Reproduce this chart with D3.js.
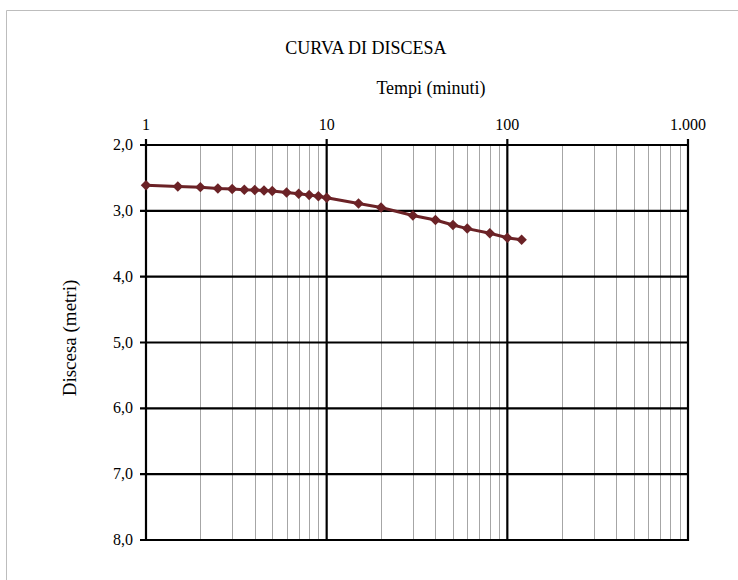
<!DOCTYPE html>
<html><head><meta charset="utf-8">
<script src="https://cdn.jsdelivr.net/npm/d3@7"></script>
<style>body{margin:0;background:#fff}svg{display:block}</style>
</head><body>
<svg id="c" width="738" height="580" font-family="'Liberation Serif', 'DejaVu Serif', serif"></svg>
<script>
const times = [1,1.5,2,2.5,3,3.5,4,4.5,5,6,7,8,9,10,15,20,30,40,50,60,80,100,120];
const drawdown = [2.61,2.63,2.64,2.66,2.67,2.68,2.685,2.69,2.70,2.72,2.74,2.76,2.78,2.80,2.89,2.95,3.07,3.14,3.215,3.27,3.34,3.41,3.44];
const xTicks = [1,10,100,1000];
const xTickLabels = ["1","10","100","1.000"];
const yTicks = [2,3,4,5,6,7,8];
const yTickLabels = ["2,0","3,0","4,0","5,0","6,0","7,0","8,0"];
const title = "CURVA DI DISCESA";
const xTitle = "Tempi (minuti)";
const yTitle = "Discesa (metri)";

const svg = d3.select("#c");
const L=146, R=688, T=145, B=540;
const x = d3.scaleLog().domain([1,1000]).range([L,R]);
const y = d3.scaleLinear().domain([2,8]).range([T,B]);

svg.append("path").attr("d","M6.5,580 L6.5,10.5 L738,10.5").attr("fill","none").attr("stroke","#bdbdbd").attr("stroke-width",1);

const minor=[];
for(let d=1; d<1000; d*=10) for(let k=2;k<=9;k++) minor.push(d*k);
svg.append("g").selectAll("line").data(minor).join("line")
  .attr("x1",d=>Math.round(x(d))+0.5).attr("x2",d=>Math.round(x(d))+0.5).attr("y1",T).attr("y2",B)
  .attr("stroke","#a6a6a6").attr("stroke-width",1);

svg.append("g").selectAll("line").data(xTicks).join("line")
  .attr("x1",d=>x(d)).attr("x2",d=>x(d)).attr("y1",T-6).attr("y2",B+1)
  .attr("stroke","#000").attr("stroke-width",2.2);
svg.append("g").selectAll("line").data(yTicks).join("line")
  .attr("x1",L-6).attr("x2",R+1).attr("y1",d=>y(d)).attr("y2",d=>y(d))
  .attr("stroke","#000").attr("stroke-width",2.2);

svg.append("g").selectAll("text").data(xTicks).join("text")
  .attr("x",d=>x(d)).attr("y",130).attr("text-anchor","middle").attr("font-size",16)
  .text((d,i)=>xTickLabels[i]);
svg.append("g").selectAll("text").data(yTicks).join("text")
  .attr("x",133).attr("y",d=>y(d)+5).attr("text-anchor","end").attr("font-size",16)
  .text((d,i)=>yTickLabels[i]);

svg.append("text").attr("x",366).attr("y",54).attr("text-anchor","middle").attr("font-size",18).text(title);
svg.append("text").attr("x",431).attr("y",94).attr("text-anchor","middle").attr("font-size",18).text(xTitle);
svg.append("text").attr("transform","translate(76,338) rotate(-90)").attr("text-anchor","middle").attr("font-size",19).text(yTitle);

const pts = times.map((t,i)=>[t,drawdown[i]]);
svg.append("path").datum(pts)
  .attr("d",d3.line().x(d=>x(d[0])).y(d=>y(d[1])))
  .attr("fill","none").attr("stroke","#6b2226").attr("stroke-width",3);
svg.append("g").selectAll("path").data(pts).join("path")
  .attr("d",d3.symbol().type(d3.symbolDiamond2).size(70))
  .attr("transform",d=>`translate(${x(d[0])},${y(d[1])})`)
  .attr("fill","#6b2226");
</script>
</body></html>
